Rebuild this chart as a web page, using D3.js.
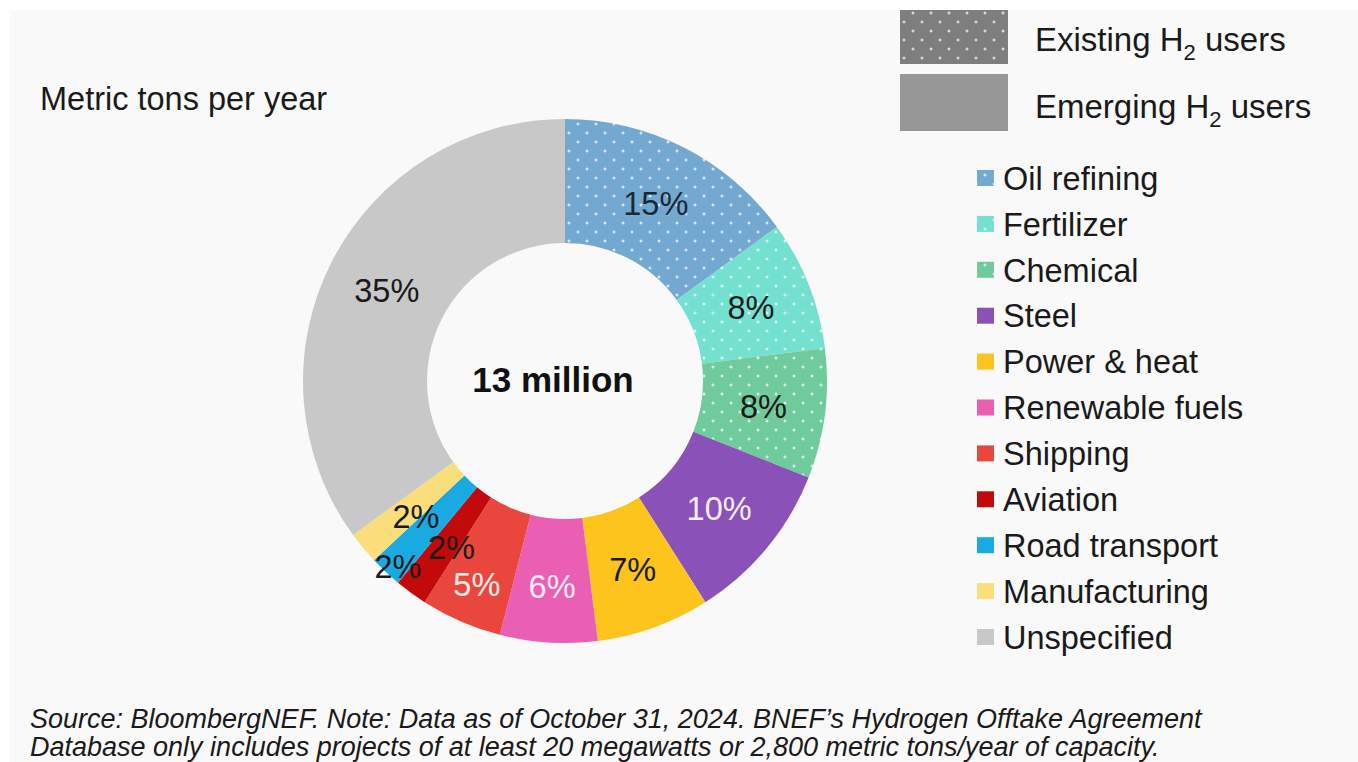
<!DOCTYPE html>
<html><head><meta charset="utf-8">
<script src="https://cdn.jsdelivr.net/npm/d3@7"></script>
<style>
html,body{margin:0;padding:0;background:#fff;}
svg{display:block;}
text{font-family:"Liberation Sans",Arial,Helvetica,sans-serif;}
</style></head>
<body>
<svg id="chart" width="1358" height="762"></svg>
<script>
// ---- data ----
const categories = ["Oil refining","Fertilizer","Chemical","Steel","Power & heat","Renewable fuels","Shipping","Aviation","Road transport","Manufacturing","Unspecified"];
const shares = [15, 8, 8, 10, 7, 6, 5, 2, 2, 2, 35];
const userGroup = ["existing","existing","existing","emerging","emerging","emerging","emerging","emerging","emerging","emerging","emerging"];
const groupLabels = ["Existing", "Emerging"];
const totalLabel = "13 million";
const unitLabel = "Metric tons per year";
const sourceLines = [
  "Source: BloombergNEF. Note: Data as of October 31, 2024. BNEF\u2019s Hydrogen Offtake Agreement",
  "Database only includes projects of at least 20 megawatts or 2,800 metric tons/year of capacity."
];

// ---- styles ----
const colors = ["#73a9d0","#74e0d0","#6fcb9c","#8a52b8","#fcc41c","#ea5fb4","#e9473d","#c30a0a","#1aaae2","#fbde7c","#c8c8c8"];
const labelColors = ["#1b2838","#1a1a1a","#1a1a1a","#f4eef6","#1a1a1a","#fbeaf4","#fbecea","#1a1a1a","#1a1a1a","#1a1a1a","#1a1a1a"];

const svg = d3.select("#chart");
const W = 1358, H = 762;

svg.append("rect").attr("x",10).attr("y",10).attr("width",W-10).attr("height",H-10).attr("fill","#f9f9f9");

const defs = svg.append("defs");
function makePattern(id, base){
  const p = defs.append("pattern").attr("id",id).attr("patternUnits","userSpaceOnUse")
    .attr("width",18).attr("height",18);
  p.append("rect").attr("width",18).attr("height",18).attr("fill",base);
  [[4,4],[13,13]].forEach(([x,y])=>{
    p.append("rect").attr("x",x-1.5).attr("y",y-0.5).attr("width",3).attr("height",1).attr("fill","#fff").attr("opacity",0.9);
    p.append("rect").attr("x",x-0.5).attr("y",y-1.5).attr("width",1).attr("height",3).attr("fill","#fff").attr("opacity",0.9);
  });
  return "url(#"+id+")";
}
const fills = categories.map((c,i)=> userGroup[i]==="existing" ? makePattern("pat"+i, colors[i]) : colors[i]);
const existingFill = makePattern("patExisting", "#7e7e7e");

// ---- donut ----
const cx = 565, cy = 381, rIn = 138, rOut = 262;
const pie = d3.pie().sort(null).value(d=>d.v);
const arcs = pie(shares.map((v,i)=>({v,i})));
const arc = d3.arc().innerRadius(rIn).outerRadius(rOut);
const g = svg.append("g").attr("transform",`translate(${cx},${cy})`);
g.selectAll("path.slice").data(arcs).enter().append("path")
  .attr("class","slice").attr("d",arc).attr("fill",d=>fills[d.data.i]);

const labelRadius = categories.map((c,i)=> i===8 ? 250 : i===6 ? 222 : i===5 ? 206 : (rIn+rOut)/2);
const labelShift = categories.map((c,i)=> i===7 ? [4,4] : i===9 ? [5,8] : i===8 ? [4,3] : [0,0]);
g.selectAll("text.pct").data(arcs).enter().append("text")
  .attr("class","pct")
  .attr("transform",d=>{
    const a = (d.startAngle+d.endAngle)/2, r = labelRadius[d.data.i], s = labelShift[d.data.i];
    return `translate(${r*Math.sin(a)+s[0]},${-r*Math.cos(a)+s[1]})`;
  })
  .attr("text-anchor","middle").attr("dy","0.36em")
  .attr("font-size",32.5).attr("fill",d=>labelColors[d.data.i])
  .text(d=>d.data.v+"%");

svg.append("text").attr("x",553).attr("y",cy-2).attr("dy","0.36em").attr("text-anchor","middle")
  .attr("font-size",35).attr("font-weight","bold").attr("fill","#111").text(totalLabel);

// ---- subtitle ----
svg.append("text").attr("x",40).attr("y",110).attr("font-size",32.5).attr("fill","#1a1a1a").text(unitLabel);

// ---- group legend ----
const gl = svg.append("g");
const groupRows = [{y:10,h:54,fill:existingFill,ty:51},{y:74,h:57,fill:"#979797",ty:118}];
groupRows.forEach((r,k)=>{
  gl.append("rect").attr("x",900).attr("y",r.y).attr("width",108).attr("height",r.h).attr("fill",r.fill);
  const t = gl.append("text").attr("x",1035).attr("y",r.ty).attr("font-size",33).attr("fill","#1a1a1a");
  t.append("tspan").text(groupLabels[k]+" H");
  t.append("tspan").attr("font-size",22).attr("dy",9).text("2");
  t.append("tspan").attr("dy",-9).text(" users");
});

// ---- category legend ----
const lg = svg.append("g");
const rowY = d3.scalePoint().domain(categories).range([178,637]);
categories.forEach((c,i)=>{
  const y = rowY(c);
  lg.append("rect").attr("x",977).attr("y",y-8).attr("width",17).attr("height",16).attr("fill",fills[i]);
  lg.append("text").attr("x",1003).attr("y",y).attr("dy","0.36em").attr("font-size",32.5).attr("fill","#1a1a1a").text(c);
});

// ---- source ----
sourceLines.forEach((s,k)=>{
  svg.append("text").attr("x",30).attr("y",728+k*28).attr("font-size",27).attr("font-style","italic")
    .attr("fill","#1a1a1a").text(s);
});
</script>
</body></html>
